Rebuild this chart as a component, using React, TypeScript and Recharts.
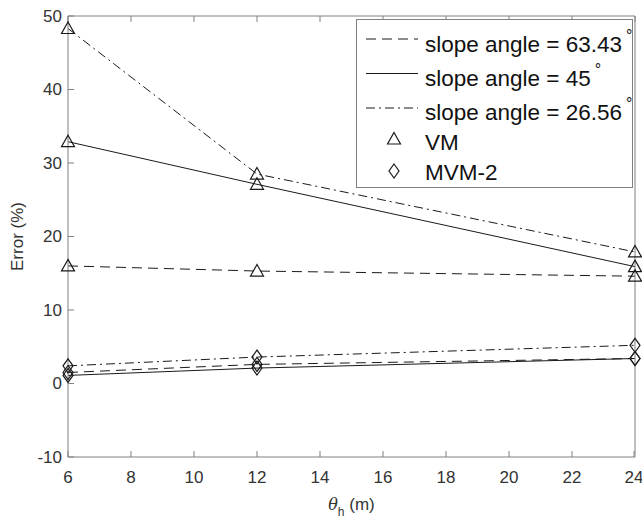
import { Legend, Line, LineChart, XAxis, YAxis } from "recharts"

const thetaH = [6, 12, 24]
const vm63 = [16.0, 15.3, 14.6]
const vm45 = [32.9, 27.1, 15.9]
const vm26 = [48.3, 28.5, 17.9]
const mvm63 = [1.5, 2.6, 3.4]
const mvm45 = [1.1, 2.1, 3.4]
const mvm26 = [2.4, 3.6, 5.2]

const xTicks = [6, 8, 10, 12, 14, 16, 18, 20, 22, 24]
const yTicks = [-10, 0, 10, 20, 30, 40, 50]

const slopeLabels = ["63.43", "45", "26.56"]
const methodLabels = ["VM", "MVM-2"]

const data = thetaH.map((x, i) => ({
  x,
  vm63: vm63[i],
  vm45: vm45[i],
  vm26: vm26[i],
  mvm63: mvm63[i],
  mvm45: mvm45[i],
  mvm26: mvm26[i],
}))

const font = "'Liberation Sans', Arial, Helvetica, sans-serif"
const lineColor = "#1a1a1a"
const axisColor = "#808080"
const textColor = "#333"
const dashes = ["10 6", undefined, "9 4 2 4"]

const triangle = (cx: number, cy: number, key?: string) => (
  <path
    key={key}
    d={`M${cx},${cy - 6.5} L${cx + 6.5},${cy + 5} L${cx - 6.5},${cy + 5} Z`}
    fill="none"
    stroke={lineColor}
    strokeWidth={1.2}
  />
)

const diamond = (cx: number, cy: number, key?: string) => (
  <path
    key={key}
    d={`M${cx},${cy - 7} L${cx + 5},${cy} L${cx},${cy + 7} L${cx - 5},${cy} Z`}
    fill="none"
    stroke={lineColor}
    strokeWidth={1.2}
  />
)

const TriDot = (p: any) => triangle(p.cx, p.cy, `t${p.index}`)
const DiaDot = (p: any) => diamond(p.cx, p.cy, `d${p.index}`)

const XTick = (p: any) => (
  <g>
    <line x1={p.x} x2={p.x} y1={p.y} y2={p.y - 6} stroke={axisColor} />
    <text x={p.x} y={p.y + 26} textAnchor="middle" fontSize={17} fontFamily={font} fill={textColor}>
      {p.payload.value}
    </text>
  </g>
)

const YTick = (p: any) => (
  <g>
    <line x1={p.x} x2={p.x + 6} y1={p.y} y2={p.y} stroke={axisColor} />
    <text x={p.x - 6} y={p.y} dy="0.35em" textAnchor="end" fontSize={17} fontFamily={font} fill={textColor}>
      {p.payload.value}
    </text>
  </g>
)

const LegendBox = () => (
  <svg width={278} height={170} style={{ display: "block" }}>
    <rect x={0.5} y={0.5} width={276} height={168} fill="#fff" stroke={axisColor} />
    {slopeLabels.map((s, i) => (
      <g key={s}>
        <line
          x1={10}
          x2={62}
          y1={20 + i * 34.5}
          y2={20 + i * 34.5}
          stroke={lineColor}
          strokeDasharray={dashes[i]}
        />
        <text x={69} y={33 + i * 34} fontSize={22.5} fontFamily={font} fill="#111">
          {`slope angle = ${s}`}
          <tspan dx={4} dy={-11} fontSize={16}>°</tspan>
        </text>
      </g>
    ))}
    {methodLabels.map((m, i) => (
      <g key={m}>
        {i === 0 ? triangle(38, 120) : diamond(38, 152)}
        <text x={69} y={131 + i * 30} fontSize={22.5} fontFamily={font} fill="#111">
          {m}
        </text>
      </g>
    ))}
  </svg>
)

export default function App() {
  return (
    <div style={{ position: "absolute", left: 0, top: 0, background: "#fff" }}>
      <LineChart width={642} height={519} data={data} margin={{ top: 16, right: 7, bottom: 22, left: 8 }}>
        <XAxis
          dataKey="x"
          type="number"
          domain={[6, 24]}
          ticks={xTicks}
          height={40}
          tickSize={0}
          tickMargin={0}
          tickLine={false}
          stroke={axisColor}
          tick={<XTick />}
          label={{
            content: (props: any) => {
              const vb = props.viewBox
              return (
                <text x={vb.x + vb.width / 2} y={vb.y + 53} textAnchor="middle" fontSize={17} fontFamily={font} fill={textColor}>
                  <tspan fontStyle="italic" fontFamily="'DejaVu Serif', serif" fontSize={16}>θ</tspan>
                  <tspan dy={6} fontSize={12}>h</tspan>
                  <tspan dy={-6}> (m)</tspan>
                </text>
              )
            },
          }}
        />
        <XAxis
          xAxisId="top"
          dataKey="x"
          type="number"
          orientation="top"
          mirror
          domain={[6, 24]}
          ticks={xTicks}
          tickSize={6}
          stroke={axisColor}
          tickFormatter={() => ""}
        />
        <YAxis
          type="number"
          domain={[-10, 50]}
          ticks={yTicks}
          width={60}
          tickSize={0}
          tickMargin={0}
          tickLine={false}
          stroke={axisColor}
          tick={<YTick />}
          label={{
            content: (props: any) => {
              const vb = props.viewBox
              const cx = vb.x + 9
              const cy = vb.y + vb.height / 2
              return (
                <text
                  x={cx}
                  y={cy}
                  dy="0.35em"
                  textAnchor="middle"
                  transform={`rotate(-90 ${cx} ${cy})`}
                  fontSize={17}
                  fontFamily={font}
                  fill={textColor}
                >
                  Error (%)
                </text>
              )
            },
          }}
        />
        <YAxis
          yAxisId="right"
          type="number"
          orientation="right"
          mirror
          domain={[-10, 50]}
          ticks={yTicks}
          tickSize={6}
          stroke={axisColor}
          tickFormatter={() => ""}
        />
        <Line dataKey="vm63" stroke={lineColor} strokeWidth={1} strokeDasharray={dashes[0]} dot={TriDot} isAnimationActive={false} />
        <Line dataKey="vm45" stroke={lineColor} strokeWidth={1} dot={TriDot} isAnimationActive={false} />
        <Line dataKey="vm26" stroke={lineColor} strokeWidth={1} strokeDasharray={dashes[2]} dot={TriDot} isAnimationActive={false} />
        <Line dataKey="mvm63" stroke={lineColor} strokeWidth={1} strokeDasharray={dashes[0]} dot={DiaDot} isAnimationActive={false} />
        <Line dataKey="mvm45" stroke={lineColor} strokeWidth={1} dot={DiaDot} isAnimationActive={false} />
        <Line dataKey="mvm26" stroke={lineColor} strokeWidth={1} strokeDasharray={dashes[2]} dot={DiaDot} isAnimationActive={false} />
        <Legend
          layout="horizontal"
          verticalAlign="middle"
          align="center"
          content={() => <LegendBox />}
          wrapperStyle={{ position: "absolute", left: 356, top: 19, width: 278, height: 170 }}
        />
      </LineChart>
    </div>
  )
}
